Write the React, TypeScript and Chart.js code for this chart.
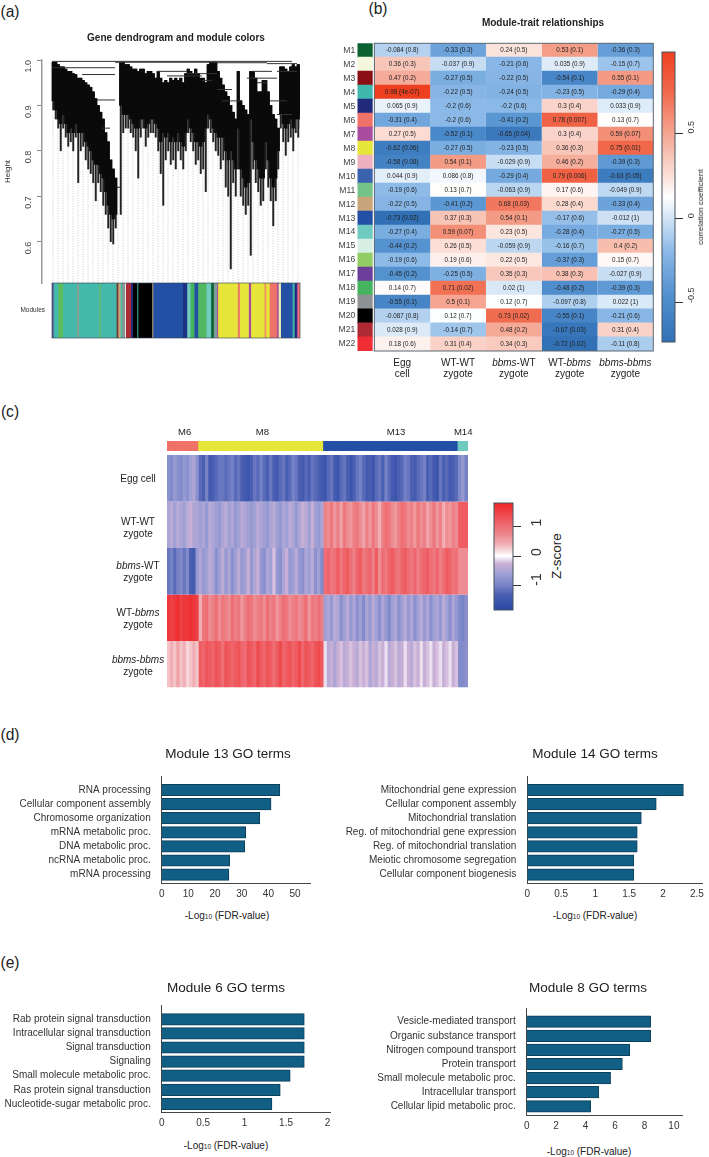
import React, { useEffect, useRef } from "react";
import { Chart, registerables } from "chart.js";

Chart.register(...registerables);
Chart.defaults.font.family = "'Liberation Sans', Arial, sans-serif";
Chart.defaults.color = "#333";

/* ---------- (a) dendrogram ---------- */
const dendroLow = [
  0.89, 0.87, 0.85, 0.8, 0.85, 0.83, 0.81, 0.82, 0.8, 0.83,
  0.73, 0.8, 0.81, 0.78, 0.76, 0.75, 0.73, 0.69, 0.73, 0.71,
  0.68, 0.66, 0.63, 0.6, 0.595, 0.63, 0.72, 0.66, 0.84, 0.85,
  0.85, 0.84, 0.83, 0.8, 0.74, 0.83, 0.85, 0.81, 0.83, 0.84,
  0.84, 0.83, 0.8, 0.75, 0.68, 0.78, 0.8, 0.77, 0.78, 0.76,
  0.8, 0.78, 0.76, 0.8, 0.84, 0.82, 0.8, 0.77, 0.78, 0.75,
  0.76, 0.71, 0.85, 0.84, 0.82, 0.8, 0.79, 0.76, 0.78, 0.72,
  0.7, 0.54, 0.73, 0.7, 0.76, 0.7, 0.68, 0.66, 0.68, 0.57,
  0.76, 0.73, 0.71, 0.68, 0.69, 0.76, 0.72, 0.69, 0.635, 0.69,
  0.76, 0.85, 0.82, 0.79, 0.82, 0.83, 0.8, 0.84, 0.83, 0.85,
];
const dendroBody = [
  0.91, 0.89, 0.87, 0.86, 0.88, 0.86, 0.84, 0.85, 0.84, 0.86,
  0.84, 0.84, 0.84, 0.82, 0.81, 0.8, 0.78, 0.77, 0.77, 0.75,
  0.74, 0.71, 0.68, 0.66, 0.65, 0.66, 0.72, 0.9, 0.88, 0.88,
  0.88, 0.87, 0.86, 0.85, 0.85, 0.87, 0.87, 0.85, 0.86, 0.87,
  0.87, 0.86, 0.85, 0.82, 0.84, 0.83, 0.84, 0.82, 0.83, 0.82,
  0.84, 0.82, 0.81, 0.84, 0.87, 0.85, 0.84, 0.82, 0.82, 0.81,
  0.82, 0.85, 0.88, 0.87, 0.85, 0.84, 0.83, 0.83, 0.83, 0.8,
  0.78, 0.8, 0.78, 0.76, 0.85, 0.76, 0.74, 0.72, 0.73, 0.87,
  0.82, 0.78, 0.76, 0.74, 0.74, 0.82, 0.78, 0.74, 0.72, 0.74,
  0.8, 0.88, 0.86, 0.85, 0.86, 0.87, 0.85, 0.87, 0.87, 0.88,
];
const dendroTop = [
  0.995, 0.995, 0.99, 0.985, 0.985, 0.98, 0.975, 0.975, 0.97, 0.968,
  0.96, 0.96, 0.955, 0.95, 0.945, 0.94, 0.93, 0.915, 0.9, 0.885,
  0.87, 0.84, 0.82, 0.78, 0.76, 0.74, 0.72, 0.995, 0.995, 0.99,
  0.99, 0.985, 0.98, 0.98, 0.975, 0.98, 0.98, 0.97, 0.975, 0.975,
  0.97, 0.96, 0.975, 0.96, 0.95, 0.955, 0.95, 0.96, 0.955, 0.96,
  0.955, 0.96, 0.95, 0.97, 0.98, 0.975, 0.97, 0.98, 0.97, 0.96,
  0.96, 0.95, 0.99, 0.995, 0.995, 0.995, 0.975, 0.96, 0.945, 0.93,
  0.92, 0.9, 0.885, 0.87, 0.975, 0.91, 0.9, 0.89, 0.88, 0.975,
  0.975, 0.96, 0.93, 0.93, 0.955, 0.955, 0.93, 0.9, 0.88, 0.87,
  0.85, 0.985, 0.985, 0.98, 0.975, 0.985, 0.99, 0.985, 0.99, 0.985,
];
const dendroStep = 2.5;
const branchLines = [
  [0, 240, 0.997], [63, 165, 0.995], [165, 215, 0.994], [215, 245, 0.992],
  [0, 63, 0.983], [30, 63, 0.968], [45, 63, 0.912], [50, 58, 0.85],
  [105, 135, 0.975], [115, 150, 0.965], [135, 165, 0.97], [150, 160, 0.955],
  [165, 180, 0.935], [170, 190, 0.91], [195, 225, 0.96], [200, 220, 0.975],
  [205, 215, 0.95], [218, 235, 0.91], [225, 240, 0.88], [225, 245, 0.975],
];
const heightTicks = [0.6, 0.7, 0.8, 0.9, 1.0];
const moduleStripWidths = [
  1.3, 4.7, 4.7, 14.3, 1.7, 20, 1.7, 16, 1.7, 2.3, 1.7, 2.7, 1, 5, 2, 4.3, 1, 14, 1,
  29.7, 4.3, 3.3, 4, 3.7, 8.3, 4.7, 2.7, 3.3, 1, 19.7, 2, 9, 2.3, 13.3, 2, 3.3, 7.3,
  1.7, 2.3, 11.7, 2, 2.3, 1, 2.4,
];
const moduleStripColors = [
  "#5a4f8c", "#43b8ab", "#5cbd5c", "#43b8ab", "#8f9f90", "#43b8ab", "#62bb6c", "#43b8ab",
  "#6b3a32", "#c9a57c", "#43b8ab", "#8f9294", "#d8efe6", "#ad2a34", "#222a7c", "#000000",
  "#43b8ab", "#000000", "#c9a57c", "#2350a5", "#1d2f80", "#6fcabf", "#46b35e", "#2350a5",
  "#52b863", "#6fcabf", "#0b6130", "#7f9c9a", "#a94b9e", "#e6e63a", "#ee7268", "#e6e63a",
  "#a94b9e", "#e6e63a", "#ee9a5a", "#e6e63a", "#ee7268", "#a94b9e", "#e8eeb0", "#2350a5",
  "#43b8ab", "#222a7c", "#a94b9e", "#ee7268",
];

/* ---------- (b) module-trait table ---------- */
const moduleNames = ["M1","M2","M3","M4","M5","M6","M7","M8","M9","M10","M11","M12","M13","M14","M15","M16","M17","M18","M19","M20","M21","M22"];
const moduleColors = ["#0b6130","#f5f7dc","#8b0f14","#3fb8ab","#222a7c","#ee7268","#a94b9e","#e6e63a","#efb1c0","#3a62ae","#74c48a","#c9a57c","#2350a5","#6fcabf","#d8efe6","#92cc64","#6c3f9c","#46b35e","#8f9294","#000000","#ad2a34","#ee2e34"];
const traitLabels = [["Egg", "cell"], ["WT-WT", "zygote"], ["*bbms*-WT", "zygote"], ["WT-*bbms*", "zygote"], ["*bbms*-*bbms*", "zygote"]];
const corrEgg = [-0.084,0.36,0.47,0.98,0.065,-0.31,0.27,-0.62,-0.58,0.044,-0.19,-0.22,-0.73,-0.27,-0.44,-0.19,-0.45,0.14,-0.55,-0.087,0.028,0.18];
const corrWtWt = [-0.33,-0.037,-0.27,-0.22,-0.2,-0.2,-0.52,-0.27,0.54,0.086,0.13,-0.41,0.37,0.59,0.26,0.19,-0.25,0.71,0.5,0.12,-0.14,0.31];
const corrBbmsWt = [0.24,-0.21,-0.22,-0.24,-0.2,-0.41,-0.65,-0.23,-0.029,-0.29,-0.063,0.68,0.54,0.23,-0.059,0.22,0.35,0.02,0.12,0.73,0.48,0.34];
const corrWtBbms = [0.53,0.035,-0.54,-0.23,0.3,0.78,0.3,0.36,0.46,0.79,0.17,0.28,-0.17,-0.28,-0.16,-0.37,0.38,-0.48,-0.097,-0.55,-0.67,-0.72];
const corrBbmsBbms = [-0.36,-0.15,0.55,-0.29,0.033,0.13,0.59,0.75,-0.39,-0.63,-0.049,-0.33,-0.012,-0.27,0.4,0.15,-0.027,-0.39,0.022,-0.21,0.31,-0.11];
const pEgg = ["0.8","0.3","0.2","4e-07","0.9","0.4","0.5","0.06","0.08","0.9","0.6","0.5","0.02","0.4","0.2","0.6","0.2","0.7","0.1","0.8","0.9","0.6"];
const pWtWt = ["0.3","0.9","0.5","0.5","0.6","0.6","0.1","0.5","0.1","0.8","0.7","0.2","0.3","0.07","0.5","0.6","0.5","0.02","0.1","0.7","0.7","0.4"];
const pBbmsWt = ["0.5","0.6","0.5","0.5","0.6","0.2","0.04","0.5","0.9","0.4","0.9","0.03","0.1","0.5","0.9","0.5","0.3","1","0.7","0.02","0.2","0.3"];
const pWtBbms = ["0.1","0.9","0.1","0.5","0.4","0.007","0.4","0.3","0.2","0.006","0.6","0.4","0.6","0.4","0.7","0.3","0.3","0.2","0.8","0.1","0.03","0.02"];
const pBbmsBbms = ["0.3","0.7","0.1","0.4","0.9","0.7","0.07","0.01","0.3","0.05","0.9","0.4","1","0.5","0.2","0.7","0.9","0.3","1","0.6","0.4","0.8"];
const corrColumns = [corrEgg, corrWtWt, corrBbmsWt, corrWtBbms, corrBbmsBbms];
const pColumns = [pEgg, pWtWt, pBbmsWt, pWtBbms, pBbmsBbms];
const corrBarRange = [-0.73, 0.98];
const corrBarTicks = [-0.5, 0, 0.5];
const corrRamp: [number, number[]][] = [
  [-0.73, [49, 112, 181]], [-0.44, [84, 146, 208]], [-0.2, [138, 184, 231]], [0, [210, 228, 245]],
  [0.125, [255, 255, 255]], [0.25, [251, 224, 216]], [0.5, [245, 165, 145]], [0.75, [240, 103, 74]], [0.98, [238, 64, 32]],
];

/* ---------- (c) z-score heatmap ---------- */
const zEgg = [
  -0.8,-0.9,-0.7,-0.8,-0.9,-0.7,-0.8,-0.6,-0.5,-0.8,
  -1.2,-1.3,-1.0,-1.4,-1.3,-1.2,-1.1,-1.1,-1.2,-1.1,
  -1.0,-1.2,-1.1,-1.3,-1.4,-1.5,-1.3,-1.1,-1.2,-1.0,
  -1.2,-1.3,-1.1,-1.3,-1.4,-1.2,-1.1,-1.3,-1.2,-1.0,
  -1.1,-1.3,-1.4,-1.2,-1.3,-1.1,-1.2,-1.3,-1.4,-1.5,
  -1.2,-1.1,-1.4,-1.5,-1.2,-1.1,-1.3,-1.5,-1.3,-1.1,
  -1.0,-1.2,-1.4,-1.3,-1.5,-1.2,-1.1,-1.3,-1.0,-1.2,
  -1.4,-1.5,-1.3,-1.2,-1.0,-1.1,-1.3,-1.4,-1.2,-1.1,
  -1.0,-1.3,-1.2,-1.4,-1.5,-1.1,-1.3,-1.2,-1.4,-1.3,
  -1.2,-0.9,-0.7,-1.0,
];
const zWtWt = [
  -0.5,-0.4,-0.6,-0.4,-0.5,-0.6,-0.4,-0.3,-0.5,-0.5,
  -0.6,-0.5,-0.7,-0.4,-0.5,-0.6,-0.7,-0.5,-0.4,-0.6,
  -0.5,-0.7,-0.6,-0.4,-0.5,-0.6,-0.7,-0.6,-0.4,-0.5,
  -0.6,-0.7,-0.5,-0.4,-0.6,-0.7,-0.5,-0.6,-0.4,-0.5,
  -0.7,-0.5,-0.3,-0.4,-0.6,-0.3,-0.6,-0.7,-0.5,0.8,
  0.7,0.9,0.6,0.8,0.5,0.9,0.7,0.6,0.8,0.9,
  0.7,0.5,0.8,0.6,0.9,0.7,0.4,0.8,1.0,0.9,
  0.7,0.6,0.8,1.0,0.9,0.7,0.8,0.6,0.9,0.7,
  0.8,0.5,0.7,0.9,0.6,0.8,0.4,0.7,0.6,0.8,
  0.7,1.2,1.2,1.2,
];
const zBbmsWt = [
  -1.1,-1.0,-1.2,-1.0,-0.9,-1.1,-0.9,-1.3,-1.4,-0.7,
  -0.5,-0.7,-0.6,-0.4,-0.5,-0.8,-0.6,-0.4,-0.7,-0.5,
  -0.8,-0.6,-0.4,-0.7,-0.6,-0.3,-0.7,-0.5,-0.3,-0.7,
  -0.8,-0.5,-0.6,-0.2,-0.7,-0.8,-0.5,-0.3,-0.7,-0.6,
  -0.4,-0.7,-0.8,-0.5,-0.6,-0.4,-0.8,-0.6,-0.9,1.0,
  1.1,0.9,1.0,1.2,0.9,1.1,1.2,1.0,0.8,1.1,
  1.2,0.9,1.0,1.1,0.8,1.2,0.7,1.0,0.9,1.1,
  1.2,1.0,0.9,1.1,1.2,1.0,0.9,1.1,0.8,1.0,
  1.1,1.2,1.0,0.9,1.1,0.8,1.0,1.2,1.1,0.9,
  1.0,0.7,0.7,0.7,
];
const zWtBbms = [
  1.6,1.5,1.6,1.7,1.5,1.6,1.6,1.7,1.6,1.5,
  0.4,0.9,1.0,0.7,0.8,1.0,0.7,0.9,0.8,0.7,
  1.0,0.8,0.9,0.6,0.8,1.0,0.9,0.7,0.8,0.9,
  0.7,1.0,0.8,0.9,0.6,0.8,1.0,0.9,0.7,0.8,
  0.9,0.7,0.8,1.0,0.6,0.9,0.8,1.0,0.8,-0.6,
  -0.5,-0.7,-0.4,-0.5,-0.8,-0.6,-0.4,-0.7,-0.5,-0.8,
  -0.6,-0.9,-0.5,-0.7,-0.4,-0.6,-0.8,-0.5,-0.7,-0.9,
  -0.6,-0.5,-0.8,-0.6,-0.4,-0.7,-0.5,-0.8,-0.6,-0.4,
  -0.7,-0.5,-0.8,-0.6,-0.5,-0.7,-0.4,-0.6,-0.8,-0.5,
  -0.7,-0.9,-1.0,-0.8,
];
const zBbmsBbms = [
  0.3,0.4,0.3,0.5,0.3,0.4,0.2,0.3,0.4,0.3,
  1.2,1.1,1.3,1.2,1.1,1.3,1.2,1.0,1.3,1.2,
  1.1,1.2,1.3,1.1,1.0,1.3,1.2,1.1,1.4,1.2,
  1.1,1.3,1.2,1.0,1.2,1.4,1.1,1.2,1.3,1.1,
  1.2,1.4,1.1,1.3,1.2,1.1,1.3,1.4,1.2,-0.1,
  -0.4,-0.3,-0.5,-0.3,-0.2,-0.4,-0.3,-0.2,-0.3,-0.4,
  -0.2,-0.3,-0.2,-0.5,-0.3,-0.4,-0.2,-0.3,-0.1,-0.4,
  -0.3,-0.2,-0.4,-0.3,-0.1,-0.3,-0.4,-0.2,-0.3,-0.1,
  -0.3,-0.2,-0.1,-0.3,-0.2,-0.1,-0.3,-0.2,-0.1,-0.3,
  -0.2,-0.9,-0.9,-0.8,
];
const zRows = [zEgg, zWtWt, zBbmsWt, zWtBbms, zBbmsBbms];
const zBandNames = ["M6", "M8", "M13", "M14"];
const zBandSizes = [10, 39, 42, 3];
const zBandColors = ["#ee7268", "#e6e63a", "#2350a5", "#6fcabf"];
const zBandLabelCols = [5, 29.3, 71, 92];
const zBarRange = [-1.82, 1.79];
const zBarTicks = [-1, 0, 1];
const zRamp: [number, number[]][] = [
  [-1.82, [40, 72, 165]], [-1.3, [74, 94, 178]], [-1, [118, 130, 198]], [-0.6, [160, 160, 213]], [-0.25, [205, 178, 214]],
  [0, [255, 255, 255]], [0.4, [240, 175, 180]], [0.8, [236, 128, 134]], [1.2, [238, 92, 98]], [1.79, [238, 38, 40]],
];

/* ---------- (d, e) GO terms ---------- */
const go13Terms = ["RNA processing","Cellular component assembly","Chromosome organization","mRNA metabolic proc.","DNA metabolic proc.","ncRNA metabolic proc.","mRNA processing"];
const go13Values = [44.3, 41, 36.8, 31.5, 31.1, 25.5, 25.2];
const go13Ticks = [0, 10, 20, 30, 40, 50];
const go14Terms = ["Mitochondrial gene expression","Cellular component assembly","Mitochondrial translation","Reg. of mitochondrial gene expression","Reg. of mitochondrial translation","Meiotic chromosome segregation","Cellular component biogenesis"];
const go14Values = [2.3, 1.9, 1.68, 1.62, 1.62, 1.57, 1.57];
const go14Ticks = [0, 0.5, 1, 1.5, 2, 2.5];
const go6Terms = ["Rab protein signal transduction","Intracellular signal transduction","Signal transduction","Signaling","Small molecule metabolic proc.","Ras protein signal transduction","Nucleotide-sugar metabolic proc."];
const go6Values = [1.72, 1.72, 1.72, 1.72, 1.55, 1.43, 1.33];
const go6Ticks = [0, 0.5, 1, 1.5, 2];
const go8Terms = ["Vesicle-mediated transport","Organic substance transport","Nitrogen compound transport","Protein transport","Small molecule metabolic proc.","Intracellular transport","Cellular lipid metabolic proc."];
const go8Values = [8.42, 8.42, 7.0, 6.5, 5.7, 4.9, 4.35];
const go8Ticks = [0, 2, 4, 6, 8, 10];

/* ---------- helpers ---------- */
type Box = { l: number; t: number; r: number; b: number };

function ramp(stops: [number, number[]][], v: number) {
  if (v <= stops[0][0]) return `rgb(${stops[0][1].join(",")})`;
  for (let i = 1; i < stops.length; i++) {
    if (v <= stops[i][0]) {
      const [a, ca] = stops[i - 1];
      const [b, cb] = stops[i];
      const f = (v - a) / (b - a);
      return `rgb(${ca.map((c, k) => Math.round(c + (cb[k] - c) * f)).join(",")})`;
    }
  }
  return `rgb(${stops[stops.length - 1][1].join(",")})`;
}

function drawRich(ctx: any, s: string, x: number, y: number, size: number, color: string) {
  const parts = s.split("*");
  const font = (i: number) => `${i % 2 ? "italic " : ""}${size}px 'Liberation Sans', Arial, sans-serif`;
  let w = 0;
  parts.forEach((p, i) => { ctx.font = font(i); w += ctx.measureText(p).width; });
  let cx = x - w / 2;
  ctx.textAlign = "left";
  ctx.textBaseline = "middle";
  ctx.fillStyle = color;
  parts.forEach((p, i) => { ctx.font = font(i); ctx.fillText(p, cx, y); cx += ctx.measureText(p).width; });
}

const framePlugin = (color: string, width = 1) => ({
  id: "frame",
  afterDatasetsDraw(chart: any) {
    const { ctx, chartArea: a } = chart;
    ctx.save();
    ctx.strokeStyle = color;
    ctx.lineWidth = width;
    ctx.strokeRect(a.left, a.top, a.right - a.left, a.bottom - a.top);
    ctx.restore();
  },
});

function gradientBarConfig(canvas: Box, area: Box, range: number[], ticks: number[], stops: [number, number[]][], fontSize: number, pad: number, tickLength: number) {
  return {
    type: "bar",
    data: {
      labels: [""],
      datasets: [{
        data: [range],
        barPercentage: 1,
        categoryPercentage: 1,
        backgroundColor: (c: any) => {
          const { chart } = c;
          if (!chart.chartArea) return "transparent";
          const y = chart.scales.y;
          const g = chart.ctx.createLinearGradient(0, y.getPixelForValue(range[0]), 0, y.getPixelForValue(range[1]));
          stops.forEach(([v, col]) => g.addColorStop((v - range[0]) / (range[1] - range[0]), `rgb(${col.join(",")})`));
          return g;
        },
      }],
    },
    plugins: [framePlugin("#44525e")],
    options: {
      animation: false, responsive: false,
      layout: { padding: { left: area.l - canvas.l, top: area.t - canvas.t, bottom: canvas.b - area.b, right: 0 } },
      plugins: { legend: { display: false }, tooltip: { enabled: false } },
      scales: {
        x: { display: false },
        y: {
          position: "right", min: range[0], max: range[1],
          afterBuildTicks: (s: any) => { s.ticks = ticks.map((value) => ({ value })); },
          afterFit: (s: any) => { s.width = canvas.r - area.r; },
          grid: { drawOnChartArea: false, drawTicks: true, tickLength, tickColor: "#333", tickWidth: 1 },
          border: { display: false },
          ticks: { minRotation: 90, maxRotation: 90, padding: pad, color: "#333", font: { size: fontSize }, callback: (v: number) => String(v) },
        },
      },
    },
  };
}

function goConfig(canvas: Box, area: Box, firstCenter: number, spacing: number, maxX: number, terms: string[], values: number[], ticks: number[]) {
  return {
    type: "bar",
    data: {
      datasets: [{
        data: values.map((x, y) => ({ x, y })),
        backgroundColor: "#125f85",
        borderColor: "#0c3f5a",
        borderWidth: 1,
        barThickness: 11.5,
      }],
    },
    options: {
      animation: false, responsive: false, indexAxis: "y",
      layout: { padding: { top: area.t - canvas.t, right: canvas.r - area.r } },
      plugins: { legend: { display: false }, tooltip: { enabled: false } },
      scales: {
        x: {
          type: "linear", min: 0, max: maxX,
          afterBuildTicks: (s: any) => { s.ticks = ticks.map((value) => ({ value })); },
          afterFit: (s: any) => { s.height = canvas.b - area.b; },
          grid: { display: false, drawTicks: false },
          border: { color: "#444", width: 1 },
          ticks: { padding: 5, color: "#333", font: { size: 10 }, maxRotation: 0, callback: (v: number) => String(v) },
        },
        y: {
          type: "linear", reverse: true, offset: false,
          min: -(firstCenter - area.t) / spacing,
          max: (area.b - firstCenter) / spacing,
          afterBuildTicks: (s: any) => { s.ticks = terms.map((_, value) => ({ value })); },
          afterFit: (s: any) => { s.width = area.l - canvas.l; },
          grid: { display: false, drawTicks: false, offset: false },
          border: { color: "#444", width: 1 },
          ticks: { padding: 11, color: "#333", font: { size: 10 }, autoSkip: false, callback: (v: number) => terms[v] },
        },
      },
    },
  };
}

/* ---------- chart configs ---------- */
function dendroConfig() {
  const canvas = boxA;
  const area = { l: 42, t: 60, r: 300, b: 283 };
  const yMin = 0.509;
  const ranks = dendroLow.map((_, i) => i * dendroStep);
  const drops: any[] = [];
  dendroLow.forEach((low, i) => {
    if (i % 2 === 0) drops.push({ x: ranks[i] + 1, y: low }, { x: ranks[i] + 1, y: yMin }, { x: ranks[i] + 1, y: null });
  });
  const branches: any[] = [];
  branchLines.forEach(([a, b, y]) => branches.push({ x: a, y }, { x: b, y }, { x: b, y: null }));
  return {
    type: "bar",
    data: {
      datasets: [
        { type: "line", data: drops, borderColor: "#b4b4b4", borderWidth: 0.7, borderDash: [1, 1.5], pointRadius: 0, spanGaps: false, order: 4 },
        { type: "bar", grouped: false, data: dendroLow.map((low, i) => ({ x: ranks[i] + 1.25, y: [low, dendroTop[i]] })), backgroundColor: "#222", barThickness: 1.3, order: 3 },
        { type: "bar", grouped: false, data: dendroBody.map((body, i) => ({ x: ranks[i] + 1.25, y: [Math.max(body, dendroLow[i]), dendroTop[i]] })), backgroundColor: "#0a0a0a", barThickness: 2.7, order: 2 },
        { type: "line", data: branches, borderColor: "#333", borderWidth: 1, pointRadius: 0, spanGaps: false, order: 1 },
      ],
    },
    options: {
      animation: false, responsive: false,
      layout: { padding: { top: area.t - canvas.t, right: canvas.r - area.r, bottom: canvas.b - area.b } },
      plugins: { legend: { display: false }, tooltip: { enabled: false } },
      scales: {
        x: { type: "linear", display: false, offset: false, min: -10, max: 248, grid: { offset: false } },
        y: {
          min: yMin, max: 1,
          afterBuildTicks: (s: any) => { s.ticks = heightTicks.map((value) => ({ value })); },
          afterFit: (s: any) => { s.width = area.l - canvas.l; },
          grid: { drawOnChartArea: false, tickLength: 5, tickColor: "#888", tickWidth: 1 },
          border: { color: "#999", width: 1.5 },
          title: { display: true, text: "Height", color: "#333", font: { size: 8 }, padding: { top: 3, bottom: 0 } },
          ticks: { minRotation: 90, maxRotation: 90, padding: 8, color: "#444", font: { size: 9 }, callback: (v: number) => v.toFixed(1) },
        },
      },
    },
  };
}

function stripConfig() {
  const canvas = boxStrip;
  const area = { l: 52, t: 283, r: 300, b: 338 };
  return {
    type: "bar",
    data: {
      labels: ["Modules"],
      datasets: moduleStripWidths.map((w, i) => ({ data: [w], backgroundColor: moduleStripColors[i], barPercentage: 1, categoryPercentage: 1, stack: "s" })),
    },
    plugins: [framePlugin("rgba(50,70,90,0.8)", 0.8)],
    options: {
      animation: false, responsive: false, indexAxis: "y",
      layout: { padding: { top: area.t - canvas.t, right: canvas.r - area.r, bottom: canvas.b - area.b } },
      plugins: { legend: { display: false }, tooltip: { enabled: false } },
      scales: {
        x: { display: false, stacked: true, min: 0, max: moduleStripWidths.reduce((a, b) => a + b, 0) },
        y: {
          stacked: true,
          afterFit: (s: any) => { s.width = area.l - canvas.l; },
          grid: { display: false, drawTicks: false },
          border: { display: false },
          ticks: { padding: 7, color: "#333", font: { size: 6.5 } },
        },
      },
    },
  };
}

function corrConfig() {
  const canvas = boxB;
  const area = { l: 357.3, t: 43.3, r: 653.3, b: 351 };
  const swatchStart = -0.306;
  return {
    type: "bar",
    data: {
      labels: moduleNames,
      datasets: [
        { data: moduleNames.map(() => [swatchStart, -0.03]), backgroundColor: moduleColors, barPercentage: 1.06, categoryPercentage: 1, grouped: false },
        ...corrColumns.map((col, c) => ({
          data: col.map(() => [c, c + 1]),
          backgroundColor: col.map((v) => ramp(corrRamp, v)),
          barPercentage: 1.06, categoryPercentage: 1, grouped: false,
        })),
      ],
    },
    plugins: [{
      id: "cellText",
      afterDatasetsDraw(chart: any) {
        const { ctx, scales: { x, y }, chartArea: a } = chart;
        ctx.save();
        ctx.strokeStyle = "#5a6670";
        ctx.lineWidth = 1;
        ctx.strokeRect(x.getPixelForValue(0), a.top, x.getPixelForValue(5) - x.getPixelForValue(0), a.bottom - a.top);
        ctx.textAlign = "center";
        corrColumns.forEach((col, c) => {
          const px = x.getPixelForValue(c + 0.5);
          col.forEach((v, r) => drawRich(ctx, `${v} (${pColumns[c][r]})`, px, y.getPixelForValue(r), 6.3, "#222"));
          traitLabels[c].forEach((line, k) => drawRich(ctx, line, px, a.bottom + 12 + k * 11.5, 10, "#222"));
        });
        ctx.restore();
      },
    }],
    options: {
      animation: false, responsive: false, indexAxis: "y",
      layout: { padding: { top: area.t - canvas.t, right: canvas.r - area.r, bottom: canvas.b - area.b } },
      plugins: { legend: { display: false }, tooltip: { enabled: false } },
      scales: {
        x: { type: "linear", display: false, min: swatchStart, max: 5 },
        y: {
          afterFit: (s: any) => { s.width = area.l - canvas.l; },
          grid: { display: false, drawTicks: false },
          border: { display: false },
          ticks: { padding: 2, color: "#444", font: { size: 8.6 }, autoSkip: false },
        },
      },
    },
  };
}

function zConfig() {
  const canvas = boxC;
  const area = { l: 167, t: 441, r: 468, b: 687.5 };
  const cols = zEgg.map((_, i) => String(i));
  const bandColor: string[] = [];
  zBandSizes.forEach((n, b) => { for (let i = 0; i < n; i++) bandColor.push(zBandColors[b]); });
  const rowH = (687.5 - 455) / 5;
  return {
    type: "bar",
    data: {
      labels: cols,
      datasets: [
        { data: cols.map(() => [-(455 - 441) / rowH, -(455 - 451) / rowH]), backgroundColor: bandColor, barPercentage: 1.5, categoryPercentage: 1, grouped: false },
        ...zRows.map((row, r) => ({
          data: row.map(() => [r, r + 1]),
          backgroundColor: row.map((v) => ramp(zRamp, v)),
          barPercentage: 1.2, categoryPercentage: 1, grouped: false,
        })),
      ],
    },
    plugins: [{
      id: "zLabels",
      afterDatasetsDraw(chart: any) {
        const { ctx, chartArea: a } = chart;
        ctx.save();
        zBandNames.forEach((n, i) => {
          const frac = (zBandLabelCols[i] + 0.5) / cols.length;
          drawRich(ctx, n, a.left + frac * (a.right - a.left), a.top - 9, 9.5, "#222");
        });
        ctx.restore();
      },
    }],
    options: {
      animation: false, responsive: false,
      layout: { padding: { left: area.l - canvas.l, top: area.t - canvas.t, right: canvas.r - area.r, bottom: canvas.b - area.b } },
      plugins: { legend: { display: false }, tooltip: { enabled: false } },
      scales: {
        x: { display: false },
        y: { type: "linear", display: false, reverse: true, min: -(455 - 441) / rowH, max: 5 },
      },
    },
  };
}

/* ---------- rendering ---------- */
function ChartBox({ box, make }: { box: Box; make: () => any }) {
  const ref = useRef<HTMLCanvasElement>(null);
  useEffect(() => {
    const chart = new Chart(ref.current as any, make());
    return () => chart.destroy();
  }, []);
  return (
    <canvas
      ref={ref}
      width={box.r - box.l}
      height={box.b - box.t}
      style={{ position: "absolute", left: box.l, top: box.t, width: box.r - box.l, height: box.b - box.t }}
    />
  );
}

function T({ x, y, size, bold, rot, children }: any) {
  return (
    <div
      style={{
        position: "absolute", left: x, top: y, whiteSpace: "nowrap", fontSize: size, lineHeight: 1,
        fontWeight: bold ? 700 : 400, color: "#222",
        transform: `translate(-50%,-50%)${rot ? ` rotate(${rot}deg)` : ""}`,
      }}
    >
      {children}
    </div>
  );
}

const LogLabel = ({ x, y }: any) => (
  <T x={x} y={y} size={10}>-Log<span style={{ fontSize: 6.5 }}>10</span> (FDR-value)</T>
);

const RowLabel = ({ x, y, italic, rest, after }: any) => (
  <T x={x} y={y} size={10}>{rest}<i>{italic}</i>{after}</T>
);

const boxA = { l: 0, t: 20, r: 308, b: 320 };
const boxStrip = { l: 0, t: 250, r: 308, b: 370 };
const boxB = { l: 338, t: 13, r: 660, b: 382 };
const boxBBar = { l: 655, t: 12, r: 697, b: 382 };
const boxC = { l: 100, t: 424, r: 476, b: 694 };
const boxCBar = { l: 488, t: 463, r: 548, b: 650 };
const box13 = { l: 0, t: 737, r: 320, b: 905 };
const box14 = { l: 345, t: 737, r: 709, b: 905 };
const box6 = { l: 0, t: 966, r: 340, b: 1134 };
const box8 = { l: 345, t: 968, r: 692, b: 1137 };

export default function App() {
  return (
    <div style={{ position: "absolute", left: 0, top: 0, width: 709, height: 1157, background: "#fff", fontFamily: "'Liberation Sans', Arial, sans-serif", overflow: "hidden" }}>
      <T x={10} y={12} size={15.6}>(a)</T>
      <T x={378} y={9} size={15.6}>(b)</T>
      <T x={10} y={412} size={15.6}>(c)</T>
      <T x={10} y={735} size={15.6}>(d)</T>
      <T x={10} y={963} size={15.6}>(e)</T>

      <ChartBox box={boxA} make={dendroConfig} />
      <ChartBox box={boxStrip} make={stripConfig} />
      <T x={176} y={38} size={10} bold>Gene dendrogram and module colors</T>

      <ChartBox box={boxB} make={corrConfig} />
      <ChartBox
        box={boxBBar}
        make={() => gradientBarConfig(boxBBar, { l: 662, t: 52, r: 675, b: 342 }, corrBarRange, corrBarTicks, corrRamp, 9, 9, 8)}
      />
      <T x={543} y={23} size={10} bold>Module-trait relationships</T>
      <T x={701} y={207} size={8} rot={-90}>correlation coefficient</T>

      <ChartBox box={boxC} make={zConfig} />
      <T x={138} y={479} size={10}>Egg cell</T>
      <T x={138} y={521.7} size={10}>WT-WT</T>
      <T x={138} y={533.5} size={10}>zygote</T>
      <RowLabel x={138} y={566} italic="bbms" after="-WT" />
      <T x={138} y={578} size={10}>zygote</T>
      <RowLabel x={138} y={613} rest="WT-" italic="bbms" />
      <T x={138} y={625} size={10}>zygote</T>
      <T x={138} y={660} size={10}><i>bbms</i>-<i>bbms</i></T>
      <T x={138} y={672} size={10}>zygote</T>
      <ChartBox
        box={boxCBar}
        make={() => gradientBarConfig(boxCBar, { l: 494, t: 503, r: 513, b: 610 }, zBarRange, zBarTicks, zRamp, 14, 16, 8)}
      />
      <T x={557} y={556} size={13.5} rot={-90}>Z-score</T>

      <ChartBox box={box13} make={() => goConfig(box13, { l: 161.7, t: 776.7, r: 310, b: 883.3 }, 790, 14.1, 55.6, go13Terms, go13Values, go13Ticks)} />
      <T x={228} y={754} size={13.5}>Module 13 GO terms</T>
      <LogLabel x={227} y={916} />

      <ChartBox box={box14} make={() => goConfig(box14, { l: 527.3, t: 776.7, r: 706.7, b: 883.3 }, 790, 14.1, 2.58, go14Terms, go14Values, go14Ticks)} />
      <T x={595} y={754} size={13.5}>Module 14 GO terms</T>
      <LogLabel x={595} y={916} />

      <ChartBox box={box6} make={() => goConfig(box6, { l: 161.7, t: 1005.7, r: 330, b: 1112.7 }, 1019.3, 14.1, 2.03, go6Terms, go6Values, go6Ticks)} />
      <T x={226} y={988} size={13.5}>Module 6 GO terms</T>
      <LogLabel x={226} y={1146} />

      <ChartBox box={box8} make={() => goConfig(box8, { l: 526.7, t: 1008, r: 682, b: 1115 }, 1021.7, 14.1, 10.55, go8Terms, go8Values, go8Ticks)} />
      <T x={588} y={988} size={13.5}>Module 8 GO terms</T>
      <LogLabel x={589} y={1152} />
    </div>
  );
}
